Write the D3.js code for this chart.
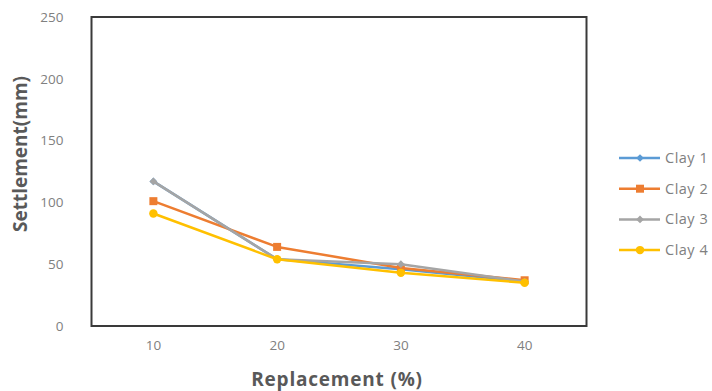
<!DOCTYPE html>
<html>
<head>
<meta charset="utf-8">
<script src="https://cdn.jsdelivr.net/npm/d3@7"></script>
<style>
  body { margin: 0; background: #fff; }
  svg { display: block; }
  text { font-family: "Open Sans", "Liberation Sans", sans-serif; }
</style>
</head>
<body>
<svg id="chart" width="712" height="391"></svg>
<script>
// Settlement versus replacement percentage for four clay types
const categories = ["10", "20", "30", "40"];
const seriesNames = ["Clay 1", "Clay 2", "Clay 3", "Clay 4"];
const clay1 = [117, 54, 46, 36];
const clay2 = [101, 64, 47, 37];
const clay3 = [117, 54, 50, 36];
const clay4 = [91, 54, 43, 35];
const yTicks = [0, 50, 100, 150, 200, 250];

const seriesValues = [clay1, clay2, clay3, clay4];
const colors = ["#5B9BD5", "#ED7D31", "#A5A5A5", "#FFC000"];
// marker shape: symbol type, area, rotation (diamonds are squares turned 45°)
const markers = [d3.symbolSquare, d3.symbolSquare, d3.symbolSquare, d3.symbolCircle];
const markerSizes = [30, 64, 30, 56];
const markerRot = [45, 0, 45, 0];

const svg = d3.select("#chart");
const plot = { left: 91.5, right: 586.5, top: 17, bottom: 326 };

const x = d3.scaleBand().domain(categories).range([plot.left, plot.right]);
const y = d3.scaleLinear().domain([0, 250]).range([plot.bottom, plot.top]);

// Plot frame
svg.append("rect")
  .attr("x", plot.left).attr("y", plot.top)
  .attr("width", plot.right - plot.left).attr("height", plot.bottom - plot.top)
  .attr("fill", "none").attr("stroke", "#3a3a3a").attr("stroke-width", 2);

// Y axis labels
const yAxis = d3.axisLeft(y).tickValues(yTicks).tickSize(0).tickPadding(28);
const gy = svg.append("g").attr("transform", `translate(${plot.left},0)`).call(yAxis);
gy.select(".domain").remove();
gy.selectAll("text").attr("fill", "#808080").style("font-size", "13.5px")
  .style("font-family", "'Open Sans', sans-serif");

// X axis labels
const xAxis = d3.axisBottom(x).tickSize(0).tickPadding(14);
const gx = svg.append("g").attr("transform", `translate(0,${plot.bottom})`).call(xAxis);
gx.select(".domain").remove();
gx.selectAll("text").attr("fill", "#808080").style("font-size", "13.5px")
  .style("font-family", "'Open Sans', sans-serif");

// Axis titles
svg.append("text")
  .attr("x", (plot.left + plot.right) / 2 - 2).attr("y", 386)
  .attr("text-anchor", "middle").attr("fill", "#595959")
  .style("font-size", "19px").style("font-weight", "bold")
  .style("letter-spacing", "0.8px")
  .text("Replacement (%)");

svg.append("text")
  .attr("transform", "translate(27,154) rotate(-90)")
  .attr("text-anchor", "middle").attr("fill", "#595959")
  .style("font-size", "19px").style("font-weight", "bold")
  .text("Settlement(mm)");

// Series lines and markers
const line = d3.line()
  .x((d, i) => x(categories[i]) + x.bandwidth() / 2)
  .y(d => y(d));

seriesValues.forEach((vals, s) => {
  svg.append("path")
    .attr("d", line(vals))
    .attr("fill", "none")
    .attr("stroke", colors[s])
    .attr("stroke-width", 2.5)
    .attr("stroke-linejoin", "round");
  svg.append("g").selectAll("path")
    .data(vals)
    .join("path")
    .attr("transform", (d, i) =>
      `translate(${x(categories[i]) + x.bandwidth() / 2},${y(d)}) rotate(${markerRot[s]})`)
    .attr("d", d3.symbol().type(markers[s]).size(markerSizes[s]))
    .attr("fill", colors[s]);
});

// Legend
const legend = svg.append("g");
seriesNames.forEach((name, s) => {
  const ly = 158 + s * 30.7;
  legend.append("line")
    .attr("x1", 619).attr("x2", 660).attr("y1", ly).attr("y2", ly)
    .attr("stroke", colors[s]).attr("stroke-width", 2.5);
  legend.append("path")
    .attr("transform", `translate(640,${ly}) rotate(${markerRot[s]})`)
    .attr("d", d3.symbol().type(markers[s]).size(markerSizes[s]))
    .attr("fill", colors[s]);
  legend.append("text")
    .attr("x", 665).attr("y", ly + 5)
    .attr("fill", "#808080").style("font-size", "14.5px")
    .style("letter-spacing", "0.5px")
    .text(name);
});
</script>
</body>
</html>
